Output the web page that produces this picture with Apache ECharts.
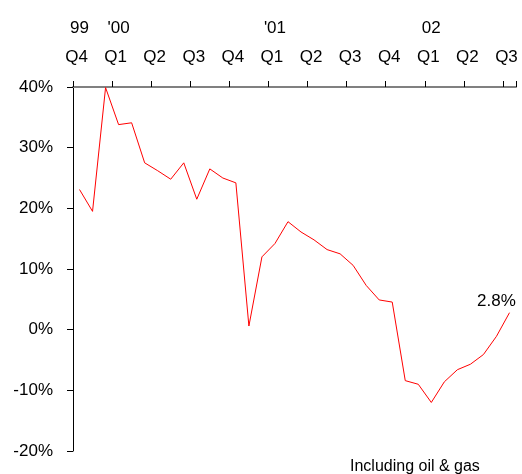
<!DOCTYPE html>
<html>
<head>
<meta charset="utf-8">
<script src="https://cdn.jsdelivr.net/npm/echarts@6/dist/echarts.min.js"></script>
<style>
html,body{margin:0;padding:0;background:#fff;}
#chart{width:522px;height:474px;}
</style>
</head>
<body>
<div id="chart"></div>
<script>
// Months from Oct 1999 to Jul 2002
var months = ['Oct 99','Nov 99','Dec 99','Jan 00','Feb 00','Mar 00','Apr 00','May 00','Jun 00','Jul 00','Aug 00','Sep 00',
  'Oct 00','Nov 00','Dec 00','Jan 01','Feb 01','Mar 01','Apr 01','May 01','Jun 01','Jul 01','Aug 01','Sep 01',
  'Oct 01','Nov 01','Dec 01','Jan 02','Feb 02','Mar 02','Apr 02','May 02','Jun 02','Jul 02'];
// Quarter label for the first month of each quarter
var quarterLabels = ['Q4','Q1','Q2','Q3','Q4','Q1','Q2','Q3','Q4','Q1','Q2','Q3'];
// Year labels keyed by month
var yearLabels = {'Oct 99':'99','Jan 00':"'00",'Jan 01':"'01",'Jan 02':'02'};
// Growth, %
var growth = [23.1, 19.5, 39.9, 33.8, 34.1, 27.5, 26.2, 24.8, 27.5, 21.5, 26.5, 25.0,
  24.2, 0.6, 12.0, 14.2, 17.8, 16.1, 14.8, 13.2, 12.5, 10.6, 7.3, 4.9,
  4.55, -8.4, -9.0, -12.0, -8.6, -6.6, -5.7, -4.1, -1.1, 2.8];
var footnote = 'Including oil & gas';

var FONT = 'Liberation Sans, Arial, sans-serif';
var FS = 17;
var chart = echarts.init(document.getElementById('chart'), null, {renderer:'canvas'});

chart.setOption({
  animation: false,
  backgroundColor: '#fff',
  title: {
    text: footnote, left: 350, top: 459, padding: 0,
    textStyle: {fontFamily: FONT, fontSize: 16, fontWeight: 'normal', color: '#000'}
  },
  grid: {left: 73, top: 87, width: 443, height: 364, containLabel: false},
  xAxis: [{
    type: 'category', position: 'top', data: months, boundaryGap: true,
    axisLine: {onZero: false, lineStyle: {color: '#808080', width: 2}},
    axisTick: {show: true, inside: false, length: 6, interval: function(i){ return i % 3 === 0; },
      lineStyle: {color: '#000', width: 1}},
    axisLabel: {show: true, margin: 21, interval: 0,
      formatter: function(v, i){ return i % 3 === 0 ? quarterLabels[i/3] : ''; },
      fontFamily: FONT, fontSize: FS, color: '#000', padding: [0, 6, 0, 0]},
    splitLine: {show: false}
  }, {
    type: 'category', position: 'top', data: months, boundaryGap: true,
    axisLine: {show: false, onZero: false}, axisTick: {show: false},
    axisLabel: {show: true, margin: 50, interval: 0,
      formatter: function(v){ return yearLabels[v] || ''; },
      fontFamily: FONT, fontSize: FS, color: '#000'},
    splitLine: {show: false}
  }],
  yAxis: {
    type: 'value', min: -20, max: 40, interval: 10,
    axisLine: {show: true, lineStyle: {color: '#000', width: 1}},
    axisTick: {show: true, length: 6, lineStyle: {color: '#000'}},
    axisLabel: {margin: 20, formatter: function(v){ return v + '%'; },
      fontFamily: FONT, fontSize: FS, color: '#000'},
    splitLine: {show: false}
  },
  series: [{
    type: 'line', data: growth, xAxisIndex: 0,
    symbol: 'none', smooth: false,
    lineStyle: {color: '#ff0000', width: 1},
    itemStyle: {color: '#ff0000'},
    endLabel: {show: true, distance: 0, offset: [-13, -3], align: 'center', verticalAlign: 'bottom',
      formatter: function(p){ return p.value + '%'; },
      fontFamily: FONT, fontSize: FS, color: '#000'}
  }]
});
</script>
</body>
</html>
